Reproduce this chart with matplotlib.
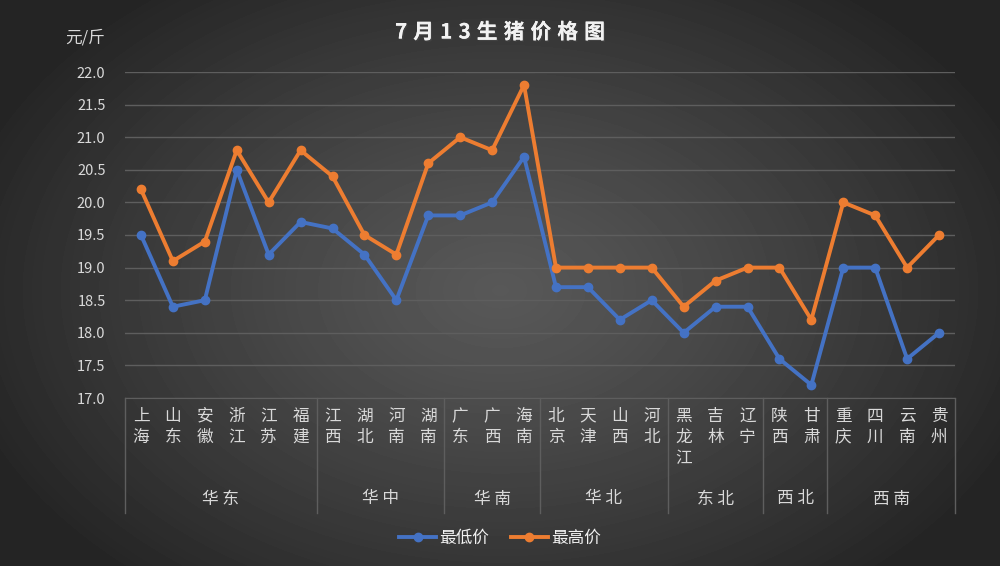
import numpy as np
import matplotlib
matplotlib.use("Agg")
import matplotlib.pyplot as plt
from matplotlib import patheffects
from matplotlib.lines import Line2D

plt.rcParams['font.family'] = ['Noto Sans CJK SC', 'DejaVu Sans']

provinces = ['上海', '山东', '安徽', '浙江', '江苏', '福建',
             '江西', '湖北', '河南', '湖南',
             '广东', '广西', '海南',
             '北京', '天津', '山西', '河北',
             '黑龙江', '吉林', '辽宁',
             '陕西', '甘肃',
             '重庆', '四川', '云南', '贵州']
regions = ['华 东', '华 中', '华 南', '华 北', '东 北', '西 北', '西 南']
region_sizes = [6, 4, 3, 4, 3, 2, 4]
low_price = [19.5, 18.4, 18.5, 20.5, 19.2, 19.7,
             19.6, 19.2, 18.5, 19.8,
             19.8, 20.0, 20.7,
             18.7, 18.7, 18.2, 18.5,
             18.0, 18.4, 18.4,
             17.6, 17.2,
             19.0, 19.0, 17.6, 18.0]
high_price = [20.2, 19.1, 19.4, 20.8, 20.0, 20.8,
              20.4, 19.5, 19.2, 20.6,
              21.0, 20.8, 21.8,
              19.0, 19.0, 19.0, 19.0,
              18.4, 18.8, 19.0,
              19.0, 18.2,
              20.0, 19.8, 19.0, 19.5]
yticks = np.arange(17.0, 22.01, 0.5)
title = '7月13生猪价格图'

blue = '#4472C4'
orange = '#ED7D31'
txt = '#d9d9d9'
grid_c = '#5e5e5e'

fig = plt.figure(figsize=(10, 5.66), dpi=100)

# radial gradient background
bg = fig.add_axes([0, 0, 1, 1], zorder=-1)
h, w = 566, 1000
yy, xx = np.mgrid[0:h, 0:w]
r = np.sqrt(((xx - 500) / 560.0) ** 2 + ((yy - 290) / 380.0) ** 2)
r = np.clip(r, 0, 1)
shade = 0.345 - (0.345 - 0.145) * r ** 1.2
bg.imshow(shade, cmap='gray', vmin=0, vmax=1, aspect='auto', extent=[0, 1, 0, 1])
bg.axis('off')

ax = fig.add_axes([0.125, 168 / 566, 0.83, 326 / 566])
ax.set_facecolor('none')
x = np.arange(len(provinces))

ax.plot(x, low_price, color=blue, lw=2.8, marker='o', ms=6, label='最低价', zorder=3)
ax.plot(x, high_price, color=orange, lw=2.8, marker='o', ms=6, label='最高价', zorder=3)

ax.set_xlim(-0.5, len(provinces) - 0.5)
ax.set_ylim(17.0, 22.0)
ax.set_yticks(yticks)
ax.set_yticklabels([f'{v:.1f}' for v in yticks], color=txt, fontsize=10.5)
ax.tick_params(axis='y', length=0, pad=14)
ax.set_xticks([])
ax.grid(axis='y', color=grid_c, lw=1)
for s in ['top', 'right', 'left']:
    ax.spines[s].set_visible(False)
ax.spines['bottom'].set_color(grid_c)
ax.set_axisbelow(True)

trans = ax.get_xaxis_transform()
for i, name in enumerate(provinces):
    ax.text(i, -0.03, '\n'.join(name), transform=trans, ha='center', va='top',
            color=txt, fontsize=12, linespacing=1.3)

bounds = np.concatenate([[0], np.cumsum(region_sizes)]) - 0.5
for b in bounds:
    ax.plot([b, b], [0, -115 / 326], transform=trans, color=grid_c, lw=1, clip_on=False)
for k, name in enumerate(regions):
    c = (bounds[k] + bounds[k + 1]) / 2
    ax.text(c, -101 / 326, name, transform=trans, ha='center', va='center',
            color=txt, fontsize=12)

# title with letter spacing
renderer = fig.canvas.get_renderer()
shadow = [patheffects.withSimplePatchShadow(offset=(1, -1), alpha=0.6), patheffects.Normal()]
tkw = dict(color='#f2f2f2', fontsize=15, fontweight='bold', va='center', ha='left', path_effects=shadow)
gap = 6
widths = []
for ch in title:
    t = fig.text(0, 0, ch, **tkw)
    widths.append(t.get_window_extent(renderer).width)
    t.remove()
total = sum(widths) + gap * (len(title) - 1)
px = 500 - total / 2
for ch, wd in zip(title, widths):
    fig.text(px / 1000, 1 - 32 / 566, ch, **tkw)
    px += wd + gap

fig.text(0.085, 1 - 38 / 566, '元/斤', ha='center', va='center', color=txt, fontsize=12)

handles = [Line2D([], [], color=blue, lw=2.8, marker='o', ms=6),
           Line2D([], [], color=orange, lw=2.8, marker='o', ms=6)]
leg = fig.legend(handles, ['最低价', '最高价'], loc='center', bbox_to_anchor=(0.5, 1 - 538 / 566),
                 ncol=2, frameon=False, fontsize=12, handlelength=2.2, columnspacing=1.3,
                 handletextpad=0.2)
for t in leg.get_texts():
    t.set_color('#f2f2f2')

fig.savefig('out.png', dpi=100)
